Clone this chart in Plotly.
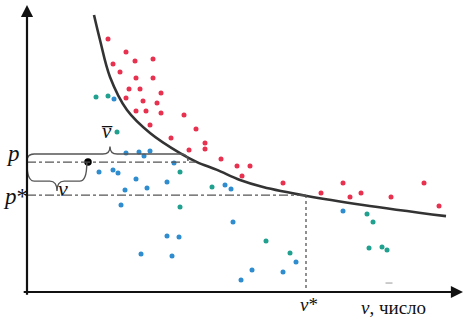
import plotly.graph_objects as go

# ---- data (v = quantity, p = price) ----
red_v = [20.25, 24.75, 27.0, 31.5, 21.5, 23.25, 27.25, 31.5, 25.5, 28.25, 33.5, 24.75, 29.0, 32.5,
         27.25, 29.75, 33.5, 39.25, 30.75, 42.25, 36.0, 44.5, 44.5, 40.5, 48.5, 52.5, 55.75, 53.75,
         64.0, 79.0, 73.5, 80.75, 83.5, 91.0, 99.25, 103.0]
red_p = [90.4, 85.7, 82.5, 83.2, 81.4, 78.6, 76.4, 76.4, 72.5, 72.5, 71.1, 69.3, 68.2, 67.5,
         64.6, 64.6, 63.9, 63.2, 59.6, 58.2, 55.0, 53.2, 51.1, 50.7, 47.5, 45.0, 45.0, 41.4,
         38.9, 38.9, 35.4, 33.9, 35.4, 33.9, 38.9, 30.7]

blue_v = [21.75, 24.75, 28.0, 29.25, 30.75, 36.75, 18.0, 21.5, 22.75, 27.25, 35.0, 24.5, 30.0,
          23.5, 49.5, 51.0, 51.5, 35.0, 38.0, 28.5, 36.25, 67.25, 56.25, 53.5, 64.0, 79.0]
blue_p = [68.9, 49.6, 50.0, 48.6, 50.4, 46.1, 42.9, 43.6, 42.5, 40.4, 39.3, 36.4, 37.1,
          31.1, 38.2, 36.8, 25.0, 20.0, 19.6, 13.6, 12.9, 10.7, 7.9, 4.3, 7.1, 28.9]

teal_v = [17.25, 20.25, 22.5, 38.25, 38.25, 46.25, 59.75, 65.75, 85.0, 86.5, 85.5, 88.75, 90.0]
teal_p = [69.6, 70.0, 57.1, 42.9, 30.4, 37.5, 18.2, 13.9, 27.9, 25.0, 15.7, 16.1, 15.0]

gray_v = [90.5]
gray_p = [3.2]

curve_v = [16.75, 18.25, 20.75, 25.0, 30.75, 38.25, 42.5, 47.5, 53.25, 59.0, 70.0, 84.0, 104.75]
curve_p = [98.9, 90.0, 76.8, 65.0, 56.8, 49.6, 46.4, 43.6, 40.0, 37.5, 34.3, 31.1, 27.1]

p_level = 46.4        # p
p_star = 34.6         # p*
v_star = 69.75        # v*
v_point = 15.25       # v of the black point
v_bar_end = 40.75     # end of the v-bar brace (where p meets the curve)

X_MAX, Y_MAX = 109, 102.5

fig = go.Figure()

fig.add_trace(go.Scatter(x=curve_v, y=curve_p, mode="lines",
                         line=dict(color="#333333", width=2.6, shape="spline", smoothing=1.0),
                         hoverinfo="skip"))
fig.add_trace(go.Scatter(x=red_v, y=red_p, mode="markers",
                         marker=dict(color="#e8304f", size=5)))
fig.add_trace(go.Scatter(x=blue_v, y=blue_p, mode="markers",
                         marker=dict(color="#2e8ccf", size=5)))
fig.add_trace(go.Scatter(x=teal_v, y=teal_p, mode="markers",
                         marker=dict(color="#20a08e", size=5)))
fig.add_trace(go.Scatter(x=gray_v, y=gray_p, mode="markers",
                         marker=dict(color="#aaaaaa", size=5, symbol="line-ew",
                                     line=dict(color="#999999", width=1))))
fig.add_trace(go.Scatter(x=[v_point], y=[p_level], mode="markers",
                         marker=dict(color="#000000", size=7.5)))

shapes = []
# reference lines
shapes.append(dict(type="line", x0=0, x1=v_bar_end + 1.5, y0=p_level, y1=p_level,
                   line=dict(color="#555555", width=1.3, dash="dashdot")))
shapes.append(dict(type="line", x0=0, x1=v_star, y0=p_star, y1=p_star,
                   line=dict(color="#555555", width=1.3, dash="dashdot")))
shapes.append(dict(type="line", x0=v_star, x1=v_star, y0=p_star, y1=-2.5,
                   line=dict(color="#555555", width=1.3, dash="dot")))


def brace(x0, x1, base, mid, tip, xc):
    r = 1.8
    return (f"M {x0},{base} Q {x0},{mid} {x0 + r},{mid} L {xc - r},{mid} "
            f"Q {xc},{mid} {xc},{tip} Q {xc},{mid} {xc + r},{mid} "
            f"L {x1 - r},{mid} Q {x1},{mid} {x1},{base}")


# upper brace  (v-bar)
shapes.append(dict(type="path", path=brace(0, v_bar_end - 0.5, p_level + 0.4, p_level + 2.9,
                                           p_level + 5.6, 20.75),
                   line=dict(color="#555555", width=1.4)))
# lower brace  (v)
shapes.append(dict(type="path", path=brace(0, v_point - 0.3, p_level - 0.3, p_level - 6.8,
                                           p_level - 10.3, 7.5),
                   line=dict(color="#555555", width=1.4)))

serif = "Liberation Serif"


def label(v, p, text, size):
    return dict(x=v / X_MAX, y=p / Y_MAX, xref="paper", yref="paper", text=text,
                xanchor="center", yanchor="middle",
                showarrow=False, font=dict(family=serif, size=size, color="#111111"))


ann = [
    # axes with arrows
    dict(x=X_MAX, y=0, ax=-1.2, ay=0, xref="x", yref="y", axref="x", ayref="y", text="",
         showarrow=True, arrowhead=2, arrowsize=1.1, arrowwidth=2.2, arrowcolor="#111111"),
    dict(x=0, y=Y_MAX, ax=0, ay=-1.5, xref="x", yref="y", axref="x", ayref="y", text="",
         showarrow=True, arrowhead=2, arrowsize=1.1, arrowwidth=2.2, arrowcolor="#111111"),
    label(-3.4, 49.5, "<i>p</i>", 23),
    label(-3.0, 34.0, "<i>p</i>*", 23),
    label(20.0, 57.5, "<i>v\u0305</i>", 21),
    label(9.0, 37.0, "<i>v</i>", 22),
    label(70.5, -4.6, "<i>v</i>*", 19),
    label(91.5, -5.4, "<i>v</i>, число", 19),
]

fig.update_layout(
    width=470, height=322,
    margin=dict(l=27, r=7, t=5, b=30),
    paper_bgcolor="white", plot_bgcolor="white",
    showlegend=False,
    shapes=shapes,
    annotations=ann,
    xaxis=dict(range=[0, X_MAX], visible=False, fixedrange=True),
    yaxis=dict(range=[0, Y_MAX], visible=False, fixedrange=True),
)

fig.write_html("out.html", config={"displayModeBar": False},
               post_script="document.body.style.margin='0';")
